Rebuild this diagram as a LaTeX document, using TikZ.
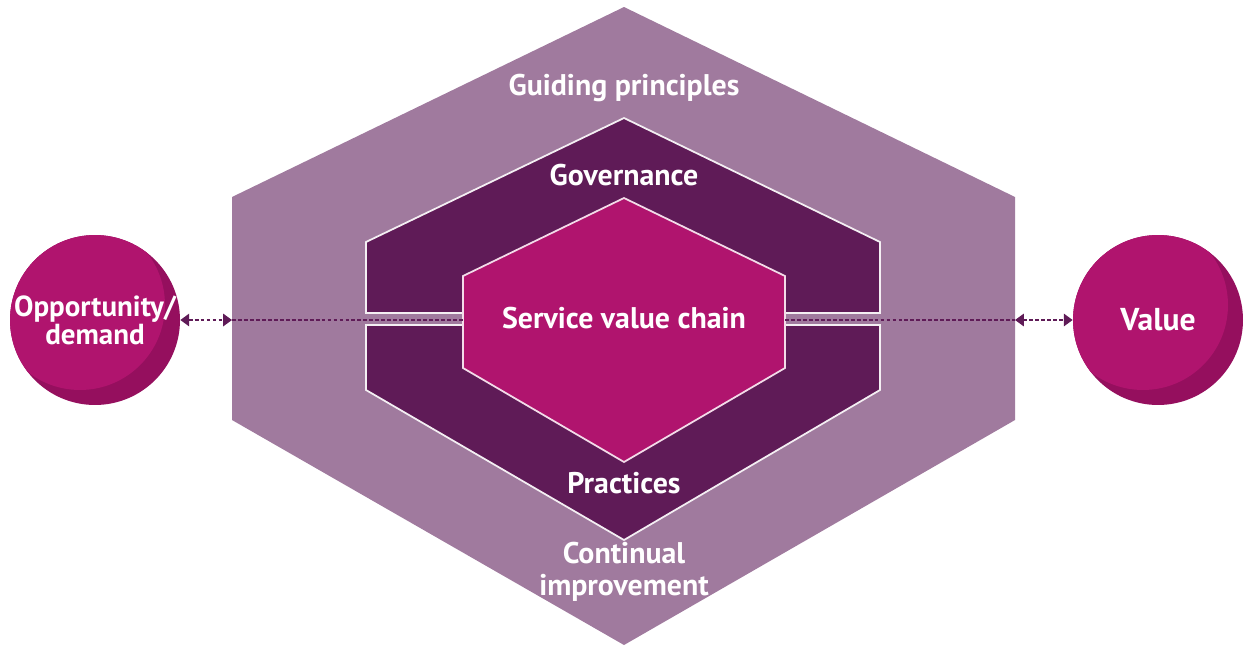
\documentclass[tikz,border=0pt]{standalone}
\usepackage{fontspec}
\setmainfont{PT Sans}
\usetikzlibrary{positioning, calc, arrows.meta}
\definecolor{svsouter}{HTML}{A07A9E}
\definecolor{svsdark}{HTML}{5F1B57}
\definecolor{svsmag}{HTML}{B0146E}
\definecolor{svsshade}{HTML}{950F5E}
\tikzset{
        layer-outer/.style={fill=svsouter},
        layer-inner/.style={fill=svsdark, draw=white!88!svsouter, line width=1pt},
        layer-core/.style={fill=svsmag, draw=white!85!svsmag, line width=1pt},
        svs-label/.style={text=white, align=center, font=\bfseries\fontsize{17}{18}\selectfont},
        bubble/.style={
            circle, minimum size=3.4cm, inner sep=0pt, fill=svsshade,
            text=white, align=center, font=\bfseries\fontsize{16.5}{16}\selectfont,
            path picture={\fill[svsmag] ([shift={(-0.3cm,0.3cm)}]path picture bounding box.center) circle (1.7cm);}
        },
        flow/.style={draw=svsdark, line width=1pt, dash pattern=on 2.2pt off 1.2pt},
        flow-arrow/.style={flow, {Triangle[width=7pt,length=5pt]}-{Triangle[width=7pt,length=5pt]}},
}
\begin{document}
\begin{tikzpicture}[x=0.02cm, y=-0.02cm]
        \useasboundingbox (0,0) rectangle (1246,646);

        % CENTRE OF THE SYSTEM
        \coordinate (svs) at (624,320);

        % DRAW LAYERS (outer to inner)
        \fill[layer-outer] ($(svs)+(0,-313)$) -- ($(svs)+(391,-123)$) -- ($(svs)+(391,100)$)
            -- ($(svs)+(0,325)$) -- ($(svs)+(-392,100)$) -- ($(svs)+(-392,-123)$) -- cycle;
        \filldraw[layer-inner] ($(svs)+(0,-202)$) -- ($(svs)+(256,-78)$) -- ($(svs)+(256,-7)$)
            -- ($(svs)+(-258,-7)$) -- ($(svs)+(-258,-78)$) -- cycle;
        \filldraw[layer-inner] ($(svs)+(-258,5)$) -- ($(svs)+(256,5)$) -- ($(svs)+(256,70)$)
            -- ($(svs)+(0,220)$) -- ($(svs)+(-258,70)$) -- cycle;
        \filldraw[layer-core] ($(svs)+(0,-122)$) -- ($(svs)+(161,-44)$) -- ($(svs)+(161,48)$)
            -- ($(svs)+(0,142)$) -- ($(svs)+(-161,48)$) -- ($(svs)+(-161,-44)$) -- cycle;

        % DRAW LABELS
        \node[svs-label] (guiding)    at ($(svs)+(0,-232)$) {Guiding principles};
        \node[svs-label] (governance) at ($(svs)+(0,-145)$) {Governance};
        \node[svs-label] (chain)      at ($(svs)+(0,-2)$)   {Service value chain};
        \node[svs-label] (practices)  at ($(svs)+(0,163)$)  {Practices};
        \node[svs-label] (improve)    at ($(svs)+(0,252)$)  {Continual\\improvement};

        % DRAW INPUT AND OUTPUT
        \node[bubble] (opp)   at ($(svs)+(-529,0)$) {Opportunity/\\demand};
        \node[bubble, font=\bfseries\fontsize{18}{16}\selectfont] (value) at ($(svs)+(534,0)$) {Value};

        % EDGE POINTS
        \coordinate (edgeL) at ($(svs)+(-392,0)$);
        \coordinate (edgeR) at ($(svs)+(391,0)$);
        \coordinate (coreL) at ($(svs)+(-161,0)$);
        \coordinate (coreR) at ($(svs)+(161,0)$);

        % CONNECT
        \draw[flow-arrow] (opp.east) -- (edgeL);
        \draw[flow] (edgeL) -- (coreL);
        \draw[flow] (coreR) -- (edgeR);
        \draw[flow-arrow] (edgeR) -- (value.west);

\end{tikzpicture}
\end{document}
